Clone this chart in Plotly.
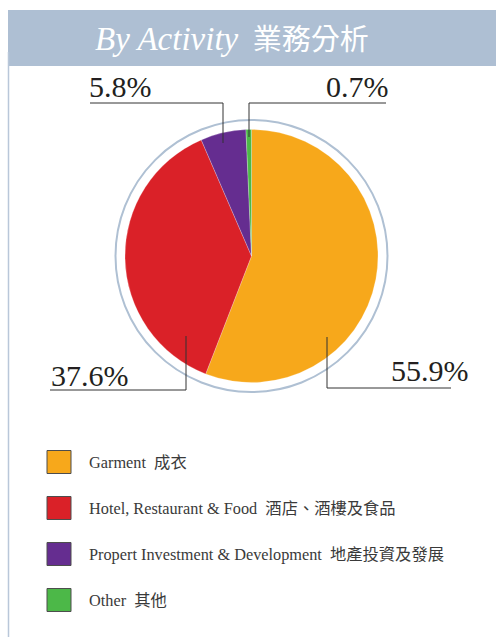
import plotly.graph_objects as go

# ---- data ----
categories = ["Garment", "Hotel, Restaurant & Food", "Propert Investment & Development", "Other"]
categories_zh = ["成衣", "酒店、酒樓及食品", "地產投資及發展", "其他"]
shares = [55.9, 37.6, 5.8, 0.7]
pct_labels = ["55.9%", "37.6%", "5.8%", "0.7%"]
colors = ["#F7A81B", "#DA2128", "#652D90", "#4CB848"]
title_en = "By Activity"
title_zh = "業務分析"

W, H = 496, 637

def px(x):
    return x / W

def py(y):
    return 1 - y / H

SERIF = "Liberation Serif, Noto Sans CJK TC, serif"

# pie geometry (pixels, page coords)
cx, cy, r = 251.5, 256, 126.5

fig = go.Figure()
fig.add_trace(go.Pie(
    labels=categories,
    values=shares,
    sort=False,
    direction="clockwise",
    rotation=0,
    marker=dict(colors=colors, line=dict(color="rgba(255,255,255,0.6)", width=0.4)),
    textinfo="none",
    hoverinfo="label+percent",
    showlegend=False,
    domain=dict(x=[px(cx - r), px(cx + r)], y=[py(cy + r), py(cy - r)]),
))

shapes = []
annotations = []

# header band
shapes.append(dict(type="rect", xref="paper", yref="paper",
                   x0=px(8), x1=1.02, y0=py(66), y1=py(10),
                   fillcolor="#AEBFD3", line=dict(width=0), layer="below"))
# left vertical rule
shapes.append(dict(type="line", xref="paper", yref="paper",
                   x0=px(8.5), x1=px(8.5), y0=py(52), y1=-0.02,
                   line=dict(color="#B9C7D9", width=1.5)))
# outer ring
R2 = 136
shapes.append(dict(type="circle", xref="paper", yref="paper",
                   x0=px(cx - R2), x1=px(cx + R2), y0=py(cy + R2), y1=py(cy - R2),
                   line=dict(color="#AFC0D3", width=2), layer="below"))

annotations.append(dict(
    text="<i><span style='font-size:33px'>" + title_en + "</span></i>  " + title_zh,
    xref="paper", yref="paper", x=px(232), y=py(39),
    xanchor="center", yanchor="middle", showarrow=False,
    font=dict(family=SERIF, size=29, color="#FFFFFF")))

# leader lines and percent labels: (inner point, elbow, end), label pos
leaders = {
    "55.9%": dict(pts=[(327, 337), (327, 388), (451, 388)], lab=(471, 370), anchor="right"),
    "37.6%": dict(pts=[(186, 336), (186, 390), (50, 390)], lab=(49, 375), anchor="left"),
    "5.8%": dict(pts=[(223, 143), (223, 103), (90, 103)], lab=(87, 86), anchor="left"),
    "0.7%": dict(pts=[(249, 137), (249, 103), (386, 103)], lab=(391, 86), anchor="right"),
}
for lab in pct_labels:
    d = leaders[lab]
    p = d["pts"]
    for (x0, y0), (x1, y1) in zip(p[:-1], p[1:]):
        shapes.append(dict(type="line", xref="paper", yref="paper",
                           x0=px(x0), y0=py(y0), x1=px(x1), y1=py(y1),
                           line=dict(color="#333333", width=1)))
    annotations.append(dict(
        text=lab, xref="paper", yref="paper", x=px(d["lab"][0]), y=py(d["lab"][1]),
        xanchor=d["anchor"], yanchor="middle", showarrow=False,
        font=dict(family=SERIF, size=30, color="#231F20")))

# custom legend
row_y = [462, 508, 554, 600]
for name, zh, col, yy in zip(categories, categories_zh, colors, row_y):
    shapes.append(dict(type="rect", xref="paper", yref="paper",
                       x0=px(47), x1=px(71), y0=py(yy + 11.5), y1=py(yy - 11.5),
                       fillcolor=col, line=dict(color="#4D4D4D", width=1)))
    annotations.append(dict(
        text=name + "  " + zh, xref="paper", yref="paper", x=px(87), y=py(yy),
        xanchor="left", yanchor="middle", showarrow=False,
        font=dict(family=SERIF, size=16.3, color="#3A3A3A")))

fig.update_layout(
    width=W, height=H,
    margin=dict(l=0, r=0, t=0, b=0),
    paper_bgcolor="#FFFFFF", plot_bgcolor="#FFFFFF",
    shapes=shapes, annotations=annotations,
)

fig.write_html(
    "out.html",
    config={"displayModeBar": False},
    post_script="document.body.style.margin='0';document.body.style.overflow='hidden';",
)
